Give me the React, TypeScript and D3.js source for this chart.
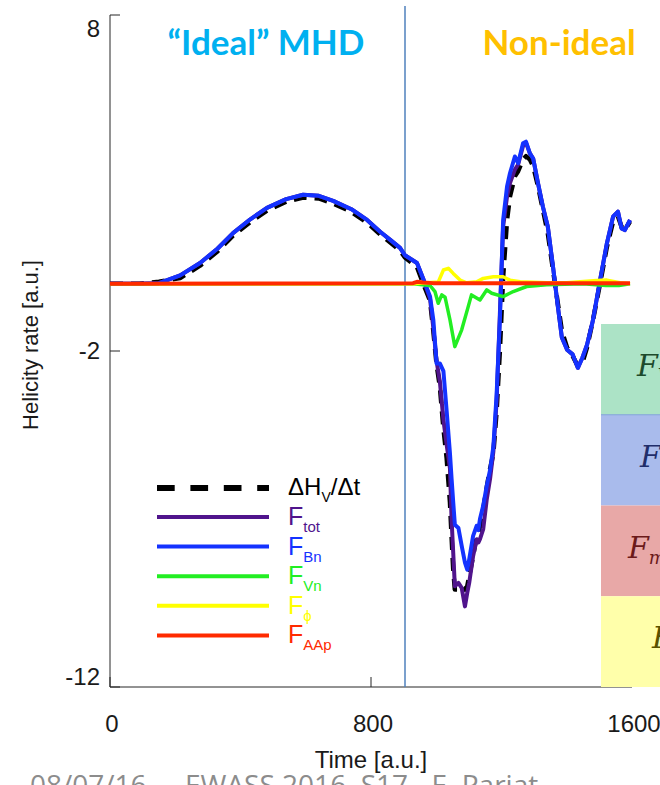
import React from 'react';
import * as d3 from 'd3';

// time samples shared by the three large curves
const time = [0, 90, 150, 215, 276, 330, 377, 430, 481, 540, 592, 640, 684, 740, 788, 828, 860, 889, 904, 941, 960, 981, 991, 1001, 1011, 1022, 1032, 1042, 1047, 1052, 1057, 1068, 1078, 1088, 1095, 1101, 1113, 1124, 1129, 1134, 1144, 1155, 1165, 1175, 1185, 1195, 1205, 1217, 1226, 1241, 1251, 1266, 1275, 1287, 1297, 1312, 1327, 1342, 1358, 1373, 1385, 1401, 1418, 1434, 1448, 1462, 1480, 1502, 1523, 1542, 1557, 1568, 1578, 1594];

const dHdt = [0, 0, 0.06, 0.17, 0.54, 0.97, 1.43, 1.84, 2.18, 2.44, 2.57, 2.54, 2.39, 2.14, 1.82, 1.47, 1.22, 0.99, 0.78, 0.5, 0.0, -0.5, -1.4, -2.4, -3.06, -4.3, -5.2, -6.5, -7.53, -8.5, -9.1, -9.1, -9.0, -9.1, -9.0, -8.7, -8.1, -7.5, -7.4, -7.23, -6.7, -6.04, -5.5, -5.05, -3.8, -2.0, 0.2, 1.9, 2.6, 3.2, 3.35, 3.7, 3.8, 3.7, 3.5, 2.9, 2.2, 1.5, 0.4, -0.6, -1.4, -1.9, -2.15, -2.45, -2.35, -1.9, -1.1, 0.0, 1.1, 1.85, 2.0, 1.7, 1.6, 1.85];

const fTot = [0, 0, 0.02, 0.25, 0.62, 1.05, 1.51, 1.92, 2.26, 2.52, 2.65, 2.62, 2.47, 2.22, 1.9, 1.55, 1.3, 1.07, 0.85, 0.62, 0.15, -0.45, -1.3, -2.3, -2.9, -4.05, -4.8, -5.5, -7.02, -8.0, -9.0, -8.9, -9.05, -9.6, -9.2, -8.9, -8.1, -7.6, -7.7, -7.6, -7.3, -6.4, -5.8, -5.0, -3.5, -0.9, 1.7, 2.6, 3.0, 3.4, 3.55, 4.1, 4.2, 3.88, 3.73, 2.99, 2.29, 1.7, 0.5, -0.7, -1.6, -1.96, -2.1, -2.5, -2.2, -1.82, -1.1, 0.1, 1.2, 2.0, 2.15, 1.65, 1.6, 1.9];

const fBn = [0, 0, 0.02, 0.25, 0.62, 1.05, 1.51, 1.92, 2.26, 2.52, 2.65, 2.62, 2.47, 2.22, 1.9, 1.55, 1.3, 1.07, 0.85, 0.62, 0.15, -0.38, -1.07, -2.37, -2.37, -2.6, -3.8, -5.05, -5.8, -6.5, -7.17, -7.27, -7.8, -8.3, -8.51, -8.2, -7.5, -7.2, -7.33, -7.0, -6.6, -6.0, -5.54, -4.85, -3.3, -1.07, 1.9, 2.9, 3.29, 3.79, 3.59, 4.18, 4.23, 3.88, 3.73, 2.99, 2.29, 1.7, 0.5, -0.7, -1.6, -1.96, -2.1, -2.5, -2.2, -1.82, -1.1, 0.1, 1.2, 2.0, 2.15, 1.65, 1.6, 1.9];

// smaller flux terms, each with its own samples
const timeVn = [0, 929, 981, 996, 1006, 1017, 1027, 1042, 1057, 1078, 1098, 1108, 1134, 1155, 1170, 1205, 1236, 1277, 1338, 1450, 1520, 1560, 1594];
const fVn = [0, 0, -0.05, -0.23, -0.58, -0.33, -0.4, -1.07, -1.87, -1.37, -0.68, -0.33, -0.48, -0.18, -0.28, -0.38, -0.23, -0.08, -0.03, 0, -0.05, -0.05, 0];

const timePhi = [0, 929, 1006, 1022, 1037, 1052, 1073, 1093, 1124, 1144, 1175, 1205, 1226, 1257, 1338, 1400, 1492, 1523, 1563, 1594];
const fPhi = [0, 0, 0.05, 0.41, 0.46, 0.31, 0.11, 0.03, 0.06, 0.16, 0.21, 0.21, 0.11, 0.06, 0.03, 0.03, 0.1, 0.11, 0.03, 0];

const timeAAp = [0, 929, 941, 960, 990, 1594];
const fAAp = [0, 0.02, 0.06, 0.04, 0.02, 0.02];

const yTicks = [8, -2, -12];
const xTicks = [0, 800, 1600];

const legendItems = [
  { main: 'F', sub: 'tot', color: '#50148c' },
  { main: 'F', sub: 'Bn', color: '#1432ff' },
  { main: 'F', sub: 'Vn', color: '#22ee22' },
  { main: 'F', sub: 'ϕ', color: '#ffff00' },
  { main: 'F', sub: 'AAp', color: '#ff2a00' },
];

const sideBoxes = [
  { fill: '#ace3c6', text: '#1d4a2c', sub: 'V', fx: 637 },
  { fill: '#a9bbec', text: '#1f2d6a', sub: 'B', fx: 640 },
  { fill: '#e8a8a7', text: '#6b1a1a', sub: 'mix', fx: 628 },
  { fill: '#ffffaa', text: '#5a5200', sub: 'ϕ', fx: 652 },
];

const W = 660;
const H = 785;
const axisFont = '"Liberation Sans", Arial, Helvetica, sans-serif';

export default function App() {
  const x = d3.scaleLinear().domain([0, 1600]).range([110, 632]);
  const y = d3.scaleLinear().domain([-12, 8]).range([687, 15]);

  const lineOf = (ts: number[], vs: number[]) =>
    d3.line<number>().x((_, i) => x(ts[i])).y((d) => y(d))(vs) || '';

  const series = [
    { d: lineOf(time, dHdt), color: '#000', w: 4.5, dash: '13 8' },
    { d: lineOf(time, fTot), color: '#50148c', w: 4 },
    { d: lineOf(time, fBn), color: '#1432ff', w: 4 },
    { d: lineOf(timeVn, fVn), color: '#22ee22', w: 3.5 },
    { d: lineOf(timePhi, fPhi), color: '#ffff00', w: 3.5 },
    { d: lineOf(timeAAp, fAAp), color: '#ff2a00', w: 4 },
  ];

  const boxTop = 324;
  const boxH = 90.75;
  const labelDy: Record<number, number> = { 8: 22, [-2]: 8, [-12]: -2 };

  return (
    <svg width={W} height={H} style={{ position: 'absolute', left: 0, top: 0, background: '#fff' }}>
      {/* footer from the slide, partly hidden below the picture */}
      <g fontFamily="'Open Sans', sans-serif" fontSize={28} fill="#8c8c8c">
        <text x={30} y={795}>08/07/16</text>
        <text x={185} y={795}>EWASS 2016, S17 - E. Pariat</text>
      </g>

      {/* axes */}
      <g stroke="#262626" strokeWidth={1} fill="none">
        <line x1={110} x2={110} y1={y(8)} y2={y(-12)} />
        <line x1={110} x2={x(1600)} y1={y(-12)} y2={y(-12)} />
        {yTicks.map((t) => (
          <line key={'yt' + t} x1={110} x2={120} y1={y(t)} y2={y(t)} />
        ))}
        {xTicks.map((t) => (
          <line key={'xt' + t} x1={x(t)} x2={x(t)} y1={y(-12)} y2={y(-12) - 10} />
        ))}
      </g>
      <g fontFamily={axisFont} fontSize={24} fill="#1a1a1a">
        {yTicks.map((t) => (
          <text key={'yl' + t} x={100} y={y(t) + labelDy[t]} textAnchor="end">
            {t}
          </text>
        ))}
        {xTicks.map((t) => (
          <text key={'xl' + t} x={x(t) + 2} y={732} textAnchor="middle">
            {t}
          </text>
        ))}
        <text x={371} y={768} textAnchor="middle">
          Time [a.u.]
        </text>
        <text transform="translate(38,345) rotate(-90)" textAnchor="middle" fontSize={22}>
          Helicity rate [a.u.]
        </text>
      </g>

      {/* regime separator */}
      <line x1={405} x2={405} y1={6} y2={687} stroke="#4f81bd" strokeWidth={1.5} />

      {/* curves */}
      {series.map((s, i) => (
        <path
          key={i}
          d={s.d}
          fill="none"
          stroke={s.color}
          strokeWidth={s.w}
          strokeDasharray={s.dash}
          strokeLinejoin="round"
        />
      ))}

      {/* legend */}
      <g fontFamily={axisFont}>
        <line x1={157} x2={269} y1={488} y2={488} stroke="#000" strokeWidth={6} strokeDasharray="17.7 15.7" />
        <text x={288} y={495} fontSize={24} fill="#000">
          ΔH
          <tspan fontSize={14} dy={7}>
            V
          </tspan>
          <tspan dy={-7}>/Δt</tspan>
        </text>
        {legendItems.map((it, i) => {
          const ly = 517 + i * 29.6;
          return (
            <g key={it.sub}>
              <line x1={157} x2={269} y1={ly} y2={ly} stroke={it.color} strokeWidth={4} />
              <text x={288} y={ly + 8} fontSize={25} fill={it.color}>
                {it.main}
                <tspan fontSize={15} dy={7}>
                  {it.sub}
                </tspan>
              </text>
            </g>
          );
        })}
      </g>

      {/* titles */}
      <g fontFamily="Lato, 'Open Sans', sans-serif" fontWeight={700} fontSize={35} textAnchor="middle">
        <text x={266} y={55} fill="#00b0f0">
          “Ideal” MHD
        </text>
        <text x={559} y={55} fill="#ffc000">
          Non-ideal
        </text>
      </g>

      {/* side boxes from the slide */}
      {sideBoxes.map((b, i) => (
        <g key={i}>
          <rect x={601} y={boxTop + i * boxH} width={59} height={boxH} fill={b.fill} />
          <text
            x={b.fx}
            y={boxTop + i * boxH + 52}
            fontFamily="'DejaVu Serif', 'Liberation Serif', serif"
            fontStyle="italic"
            fontSize={30}
            fill={b.text}
          >
            F
            <tspan fontSize={18} dy={6}>
              {b.sub}
            </tspan>
          </text>
        </g>
      ))}
      <line x1={601} x2={660} y1={boxTop + boxH} y2={boxTop + boxH} stroke="#7fa3d6" strokeWidth={1} />
    </svg>
  );
}
